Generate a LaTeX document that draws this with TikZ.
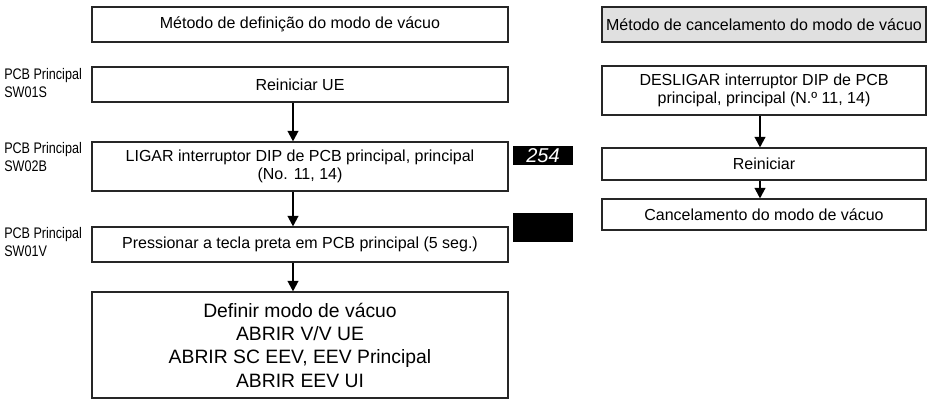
\documentclass[tikz,border=0pt]{standalone}
\usepackage{fontspec}
\setmainfont{Liberation Sans}
\newfontfamily\narrowfont[FakeStretch=0.82]{Liberation Sans}
\usetikzlibrary{arrows.meta}
\definecolor{hdrgray}{RGB}{224,224,224}
\begin{document}
\begin{tikzpicture}[x=0.75pt,y=-0.75pt,
  box/.style={draw=black!85, line width=0.8pt, inner sep=2pt, align=center,
    font=\fontsize{12}{14}\selectfont},
  lbox/.style={box, minimum width=312pt},
  rbox/.style={box, minimum width=243pt},
  arr/.style={line width=1.6pt, -{Triangle[width=8pt,length=8pt]}},
  lbl/.style={anchor=west, align=left, inner sep=0pt,
    font=\narrowfont\fontsize{11.5}{13}\selectfont},
  disp/.style={fill=black, minimum width=45pt, inner sep=0pt, text=white}]
\useasboundingbox (0,0) rectangle (930,399);

% left column
\node[lbox, minimum height=26.25pt] (h1) at (300,24.5) {Método de definição do modo de vácuo};
\node[lbox, minimum height=26.25pt] (s1) at (300,84.5) {Reiniciar UE};
\node[lbox, minimum height=36.75pt] (s2) at (300,166.5) {LIGAR interruptor DIP de PCB principal, principal\\(No. 11, 14)};
\node[lbox, minimum height=26.25pt] (s3) at (300,244.5) {Pressionar a tecla preta em PCB principal (5 seg.)};
\node[lbox, minimum height=79.5pt, font=\fontsize{14.5}{17.5}\selectfont] (s4) at (300,345)
  {Definir modo de vácuo\\ABRIR V/V UE\\ABRIR SC EEV, EEV Principal\\ABRIR EEV UI};

\node[lbl] (l1) at (4,83) {PCB Principal\\SW01S};
\node[lbl] (l2) at (4,157) {PCB Principal\\SW02B};
\node[lbl] (l3) at (4,242) {PCB Principal\\SW01V};

\node[disp, minimum height=14.25pt, font=\itshape\fontsize{15}{15}\selectfont] (d1) at (543,155.5) {254};
\node[disp, minimum height=21.75pt] (d2) at (543,227.5) {};

\coordinate (lx) at (293,0);
\draw[arr] (s1.south -| lx) -- (s2.north -| lx);
\draw[arr] (s2.south -| lx) -- (s3.north -| lx);
\draw[arr] (s3.south -| lx) -- (s4.north -| lx);

% right column
\node[rbox, minimum height=26.25pt, fill=hdrgray] (h2) at (764,24.5) {Método de cancelamento do modo de vácuo};
\node[rbox, minimum height=36.75pt] (r1) at (764,90.5) {DESLIGAR interruptor DIP de PCB\\principal, principal (N.º 11, 14)};
\node[rbox, minimum height=24pt] (r2) at (764,164) {Reiniciar};
\node[rbox, minimum height=23.25pt] (r3) at (764,214.5) {Cancelamento do modo de vácuo};

\coordinate (rx) at (760,0);
\draw[arr] (r1.south -| rx) -- (r2.north -| rx);
\draw[arr] (r2.south -| rx) -- (r3.north -| rx);
\end{tikzpicture}
\end{document}
